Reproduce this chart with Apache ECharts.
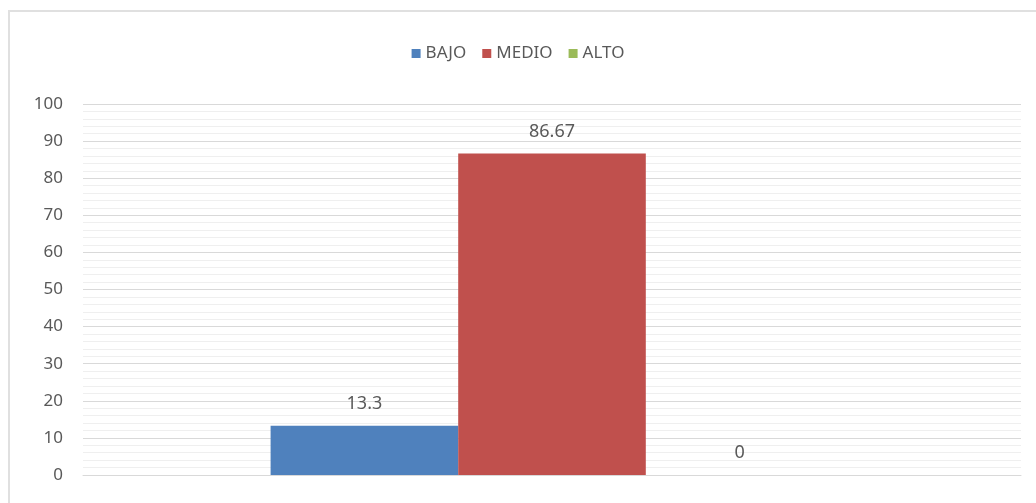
<!DOCTYPE html>
<html><head><meta charset="utf-8">
<script src="https://cdn.jsdelivr.net/npm/echarts@6/dist/echarts.min.js"></script>
<style>html,body{margin:0;padding:0;background:#fff}#c{width:1036px;height:503px}</style>
</head><body><div id="c"></div>
<script>
const categories = [''];
const seriesNames = ['BAJO', 'MEDIO', 'ALTO'];
const bajo = [13.3];
const medio = [86.67];
const alto = [0];
const colors = ['#4F81BD', '#C0504D', '#9BBB59'];
const font = 'Noto Sans, sans-serif';
const chart = echarts.init(document.getElementById('c'));
const data = [bajo, medio, alto];
chart.setOption({
  animation: false,
  graphic: [{type: 'rect', shape: {x: 9, y: 11, width: 1040, height: 500}, style: {fill: 'none', stroke: '#e0e0e0', lineWidth: 2}, silent: true}],
  legend: {top: 40, left: 'center', itemWidth: 9, itemHeight: 9, itemGap: 16, icon: 'rect',
    textStyle: {color: '#595959', fontSize: 17, fontFamily: font}},
  grid: {left: 83, right: 15, top: 104, bottom: 28},
  xAxis: {type: 'category', data: categories, axisLabel: {show: false}, axisTick: {show: false},
    axisLine: {lineStyle: {color: '#d9d9d9'}}},
  yAxis: {type: 'value', min: 0, max: 100, interval: 10,
    axisLabel: {color: '#595959', fontSize: 17, fontFamily: font, margin: 20},
    axisLine: {show: false}, axisTick: {show: false},
    splitLine: {lineStyle: {color: '#d9d9d9'}},
    minorTick: {show: false, splitNumber: 5},
    minorSplitLine: {show: true, lineStyle: {color: '#efefef'}}},
  series: seriesNames.map((n, i) => ({
    name: n, type: 'bar', data: data[i], barGap: '0%', barCategoryGap: '40%',
    itemStyle: {color: colors[i]},
    label: {show: true, position: 'top', distance: 13, color: '#595959', fontSize: 18, fontFamily: font}
  }))
});
</script></body></html>
